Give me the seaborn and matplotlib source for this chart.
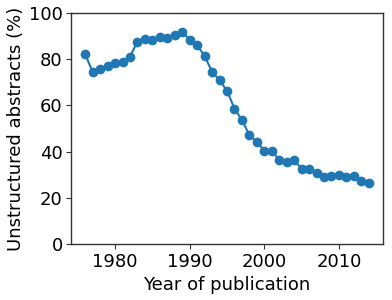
import matplotlib
matplotlib.use("Agg")
import matplotlib.pyplot as plt
import seaborn as sns
import pandas as pd

years = list(range(1976, 2015))
unstructured = [82.0, 74.5, 75.7, 77.1, 78.1, 78.6, 81.0, 87.5, 88.5, 88.2,
                89.4, 89.2, 90.5, 91.8, 88.2, 86.0, 81.3, 74.5, 70.9, 66.3,
                58.6, 53.7, 47.1, 44.2, 40.4, 40.4, 36.4, 35.5, 36.4, 32.5,
                32.4, 30.9, 28.9, 29.5, 30.1, 28.9, 29.5, 27.2, 26.5]

df = pd.DataFrame({"year": years, "pct": unstructured})

sns.set_style("ticks")
plt.rcParams['font.family'] = ['DejaVu Sans']
plt.rcParams['text.color'] = 'black'
plt.rcParams['axes.labelcolor'] = 'black'
plt.rcParams['xtick.color'] = 'black'
plt.rcParams['ytick.color'] = 'black'

fig = plt.figure(figsize=(3.92, 3.0), dpi=100)
ax = fig.add_axes([71/392, 1 - 244.3/300, (383 - 71)/392, (244.3 - 12.7)/300])
sns.lineplot(data=df, x="year", y="pct", ax=ax, color="#1f77b4",
             marker="o", markersize=7, markeredgewidth=0, linewidth=1.5)
ax.set_ylim(0, 100)
ax.set_xticks([1980, 1990, 2000, 2010])
ax.set_yticks([0, 20, 40, 60, 80, 100])
ax.set_xlabel("Year of publication", fontsize=13)
ax.set_ylabel("Unstructured abstracts (%)", fontsize=13, labelpad=3)
ax.tick_params(labelsize=13, colors="black", length=3.5, pad=2.5)
ax.tick_params(color="#333333")
for s in ax.spines.values():
    s.set_color("#333333")
    s.set_linewidth(1.0)
fig.savefig("out.png", dpi=100)
